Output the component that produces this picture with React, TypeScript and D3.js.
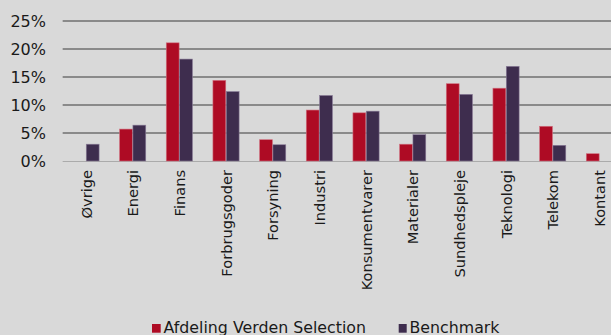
import React from "react";
import * as d3 from "d3";

const categories = ["Øvrige", "Energi", "Finans", "Forbrugsgoder", "Forsyning", "Industri", "Konsumentvarer", "Materialer", "Sundhedspleje", "Teknologi", "Telekom", "Kontant"];
const seriesNames = ["Afdeling Verden Selection", "Benchmark"];
const fundValues = [0, 5.7, 21.1, 14.4, 3.8, 9.1, 8.6, 3.0, 13.8, 13.0, 6.2, 1.3];
const benchValues = [3.0, 6.4, 18.2, 12.4, 2.9, 11.7, 8.9, 4.7, 11.9, 16.9, 2.8, 0];
const yTicks = [0, 5, 10, 15, 20, 25];
const colors = ["#ae0b24", "#3e2d4e"];
const strokes = ["#d0707f", "#8a7c98"];

const W = 611;
const H = 335;
const FONT = "'DejaVu Sans', Verdana, sans-serif";

export default function App() {
  const x0 = d3.scaleBand<string>().domain(categories).range([62.67, 62.67 + 12 * 46.67]);
  const x1 = d3.scaleBand<string>().domain(seriesNames).range([0, x0.bandwidth()]).paddingOuter(0.75).paddingInner(0);
  const y = d3.scaleLinear().domain([0, 25]).range([161, 21]);
  const series = [fundValues, benchValues];

  return (
    <svg width={W} height={H} style={{ position: "absolute", left: 0, top: 0, display: "block", background: "#d9d9d9" }} fontFamily={FONT}>
      <rect x={0} y={0} width={W} height={H} fill="#d9d9d9" />
      {yTicks.filter((t) => t > 0).map((t) => (
        <line key={t} x1={62.67} x2={W} y1={y(t)} y2={y(t)} stroke="#8a8a8a" strokeWidth={2} />
      ))}
      <line x1={62.67} x2={W} y1={y(0) + 0.5} y2={y(0) + 0.5} stroke="#ababab" strokeWidth={1} />
      {yTicks.map((t) => (
        <text key={t} x={46} y={y(t)} textAnchor="end" dominantBaseline="central" fontSize={16} fill="#1a1a1a">
          {d3.format("d")(t)}%
        </text>
      ))}
      {categories.map((c, i) => (
        <g key={c} transform={`translate(${x0(c)},0)`}>
          {series.map((vals, s) =>
            vals[i] > 0 ? (
              <rect
                key={s}
                x={(x1(seriesNames[s]) as number) + 0.25}
                y={y(vals[i])}
                width={x1.bandwidth() - 0.5}
                height={y(0) - y(vals[i])}
                fill={colors[s]}
                stroke={strokes[s]}
                strokeWidth={0.6}
              />
            ) : null
          )}
        </g>
      ))}
      {categories.map((c) => (
        <text
          key={c}
          transform={`translate(${(x0(c) as number) + x0.bandwidth() / 2},170) rotate(-90)`}
          textAnchor="end"
          dominantBaseline="central"
          fontSize={14.6}
          fill="#1a1a1a"
        >
          {c}
        </text>
      ))}
      <g>
        <rect x={152} y={324} width={8.7} height={8.7} fill={colors[0]} />
        <text x={163.5} y={332.7} fontSize={15.8} fill="#1a1a1a">{seriesNames[0]}</text>
        <rect x={398.7} y={324} width={8} height={8.7} fill={colors[1]} />
        <text x={409.5} y={332.7} fontSize={15.8} fill="#1a1a1a">{seriesNames[1]}</text>
      </g>
    </svg>
  );
}
